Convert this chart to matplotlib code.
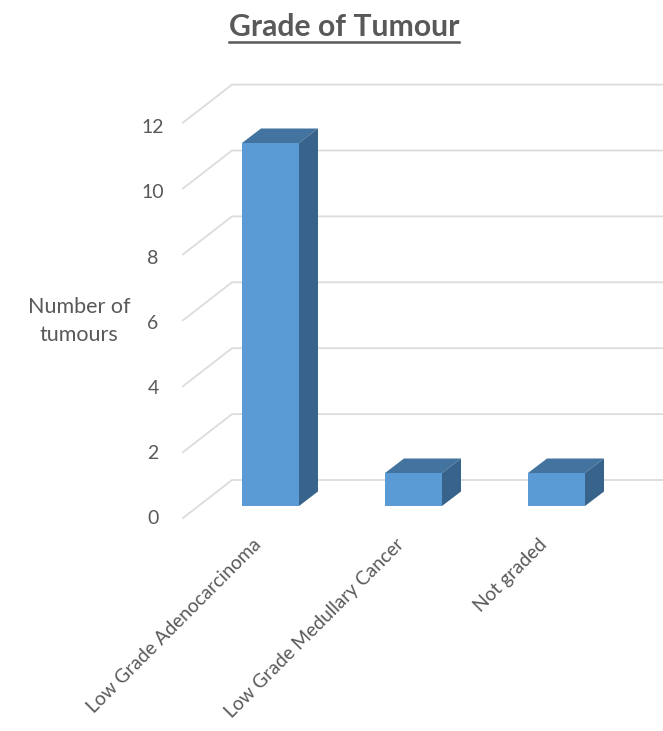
import matplotlib
matplotlib.use('Agg')
import matplotlib.pyplot as plt
from matplotlib.patches import Polygon

plt.rcParams['font.family'] = ['Lato', 'DejaVu Sans']

categories = ['Low Grade Adenocarcinoma', 'Low Grade Medullary Cancer', 'Not graded']
counts = [11, 1, 1]
y_ticks = [0, 2, 4, 6, 8, 10, 12]

W, H = 663, 731
TEXT = '#595959'
GRID = '#dcdcdc'
FACE = '#5b9bd5'
TOP = '#43739f'
SIDE = '#38638a'

# one unit on each axis, in pixels
X_UNIT = 143.0
Y_UNIT = 33.0
X0_PX = 270.5
Y0_PX = 506.0

fig = plt.figure(figsize=(W / 100, H / 100), dpi=100)
ax = fig.add_axes([0, 0, 1, 1])
ax.set_xlim(-X0_PX / X_UNIT, (W - X0_PX) / X_UNIT)
ax.set_ylim((Y0_PX - H) / Y_UNIT, Y0_PX / Y_UNIT)
ax.axis('off')

# oblique offset of the bar depth
dx, dy = 19 / X_UNIT, 14.5 / Y_UNIT
half_w = 28.5 / X_UNIT

# floor and wall lines of the fake 3D box
front_x, back_x = (183 - X0_PX) / X_UNIT, (232 - X0_PX) / X_UNIT
front_y0, back_y0 = (Y0_PX - 518) / Y_UNIT, (Y0_PX - 480) / Y_UNIT
step = 32.95 / Y_UNIT
label_step = 32.6 / Y_UNIT
right_x = (W - X0_PX) / X_UNIT
for t in y_ticks:
    ax.plot([front_x, back_x, right_x],
            [front_y0 + t * step, back_y0 + t * step, back_y0 + t * step],
            color=GRID, lw=1.3, zorder=1, solid_joinstyle='miter')
    ax.text(front_x - 30 / X_UNIT, front_y0 - 1 / Y_UNIT + t * label_step, str(t),
            ha='center', va='center', fontsize=14, color=TEXT)

# bars: front, top and side faces
for i, v in enumerate(counts):
    l, r = i - half_w, i + half_w
    ax.add_patch(Polygon([(l, 0), (r, 0), (r, v), (l, v)], fc=FACE, ec='none', zorder=3))
    ax.add_patch(Polygon([(l, v), (r, v), (r + dx, v + dy), (l + dx, v + dy)],
                         fc=TOP, ec='none', zorder=3))
    ax.add_patch(Polygon([(r, 0), (r + dx, dy), (r + dx, v + dy), (r, v)],
                         fc=SIDE, ec='none', zorder=3))
    ax.text(i - 12 / X_UNIT, -36 / Y_UNIT, categories[i], rotation=45,
            rotation_mode='anchor', ha='right', va='center',
            fontsize=13.8, color=TEXT)

fig.text(79 / W, 1 - 321 / H, 'Number of\ntumours', ha='center', va='center',
         fontsize=15.5, color=TEXT, linespacing=1.45)
fig.text(344 / W, 1 - 27 / H, 'Grade of Tumour', ha='center', va='center',
         fontsize=21.7, fontweight='bold', color=TEXT)
fig.add_artist(plt.Line2D([229 / W, 459 / W], [1 - 42 / H, 1 - 42 / H],
                          color=TEXT, lw=1.8))

fig.savefig('out.png', dpi=100)
